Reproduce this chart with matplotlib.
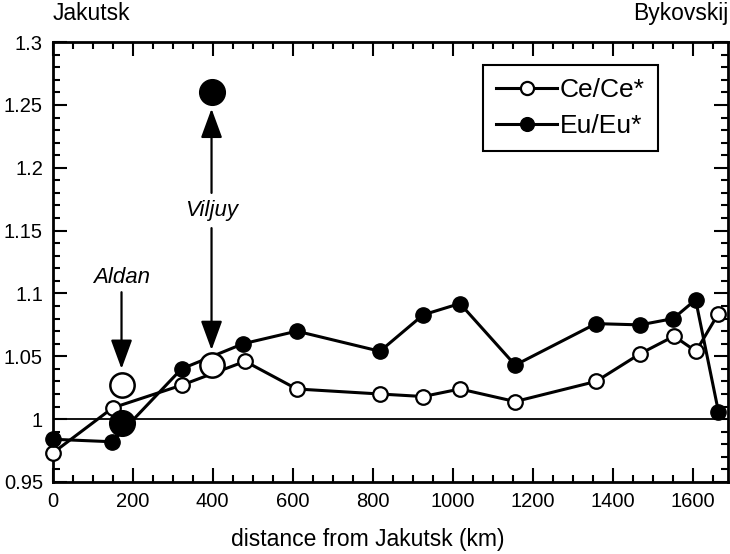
import matplotlib
matplotlib.use("Agg")
import matplotlib.pyplot as plt
from matplotlib.ticker import MultipleLocator, FormatStrFormatter

plt.rcParams['font.family'] = ['Liberation Sans', 'DejaVu Sans']

# Lena river profile: distance from Jakutsk (km) and anomalies
ce_km = [0, 150, 322, 481, 610, 818, 926, 1018, 1156, 1358, 1468, 1553, 1608, 1664]
ce_val = [0.973, 1.009, 1.027, 1.046, 1.024, 1.020, 1.018, 1.024, 1.014, 1.030, 1.052, 1.066, 1.054, 1.084]

eu_km = [0, 149, 322, 476, 610, 818, 926, 1018, 1156, 1358, 1468, 1551, 1607, 1664]
eu_val = [0.984, 0.982, 1.040, 1.060, 1.070, 1.054, 1.083, 1.092, 1.043, 1.076, 1.075, 1.080, 1.095, 1.006]

# tributaries
trib_names = ['Aldan', 'Viljuy']
trib_km = [172, 397]
trib_ce = [1.027, 1.043]
trib_eu = [0.997, 1.260]

x_ticks = list(range(0, 1601, 200))
y_ticks = [0.95, 1.0, 1.05, 1.1, 1.15, 1.2, 1.25, 1.3]

fig = plt.figure(figsize=(7.3, 5.54), dpi=100)
ax = fig.add_axes([0.0722, 0.130, 0.9251, 0.794])

ax.axhline(1.0, color='black', lw=1.3, zorder=1)

ax.plot(ce_km, ce_val, '-o', color='black', lw=2.2, ms=10.5,
        mfc='white', mec='black', mew=1.6, label='Ce/Ce*', clip_on=False, zorder=3)
ax.plot(eu_km, eu_val, '-o', color='black', lw=2.2, ms=11,
        mfc='black', mec='black', label='Eu/Eu*', clip_on=False, zorder=3)

# big tributary markers
ax.plot(trib_km, trib_ce, 'o', ms=17.5, mfc='white', mec='black', mew=1.8,
        ls='none', zorder=5)
ax.plot(trib_km, trib_eu, 'o', ms=18.5, mfc='black', mec='black',
        ls='none', zorder=5)

arrow = dict(arrowstyle='-|>,head_length=0.9,head_width=0.33', mutation_scale=20,
             color='black', lw=1.6, shrinkA=0, shrinkB=0)

# Aldan: single arrow down to the tributary
ax.annotate('', xy=(trib_km[0], 1.040), xytext=(trib_km[0], 1.101), arrowprops=arrow)
ax.text(trib_km[0], 1.113, trib_names[0], ha='center', va='center',
        fontsize=16, style='italic')

# Viljuy: arrows up and down from the label
ax.annotate('', xy=(trib_km[1], 1.247), xytext=(trib_km[1], 1.180), arrowprops=arrow)
ax.annotate('', xy=(trib_km[1], 1.055), xytext=(trib_km[1], 1.152), arrowprops=arrow)
ax.text(trib_km[1], 1.166, trib_names[1], ha='center', va='center',
        fontsize=16, style='italic')

ax.set_xlim(0, 1688)
ax.set_ylim(0.95, 1.3)
ax.set_xticks(x_ticks)
ax.set_yticks(y_ticks)
ax.xaxis.set_minor_locator(MultipleLocator(50))
ax.yaxis.set_minor_locator(MultipleLocator(0.01))
ax.yaxis.set_major_formatter(FormatStrFormatter('%g'))

ax.tick_params(which='both', direction='in', top=True, right=True,
               width=1.5, labelsize=14.5, pad=7)
ax.tick_params(which='major', length=10)
ax.tick_params(which='minor', length=5)
for sp in ax.spines.values():
    sp.set_linewidth(2.0)

ax.set_xlabel('distance from Jakutsk (km)', fontsize=16.5)
ax.xaxis.set_label_coords(0.467, -0.105)

ax.text(0, 1.04, 'Jakutsk', transform=ax.transAxes, ha='left', va='bottom', fontsize=16.5)
ax.text(1, 1.04, 'Bykovskij', transform=ax.transAxes, ha='right', va='bottom', fontsize=16.5)

leg = ax.legend(loc='upper right', bbox_to_anchor=(0.896, 0.948), borderaxespad=0,
                fontsize=19, fancybox=False, edgecolor='black', framealpha=1,
                handlelength=2.3, handletextpad=0.1, labelspacing=0.45,
                borderpad=0.5, markerscale=0.9)
leg.get_frame().set_linewidth(1.5)

fig.savefig('out.png', dpi=100)
